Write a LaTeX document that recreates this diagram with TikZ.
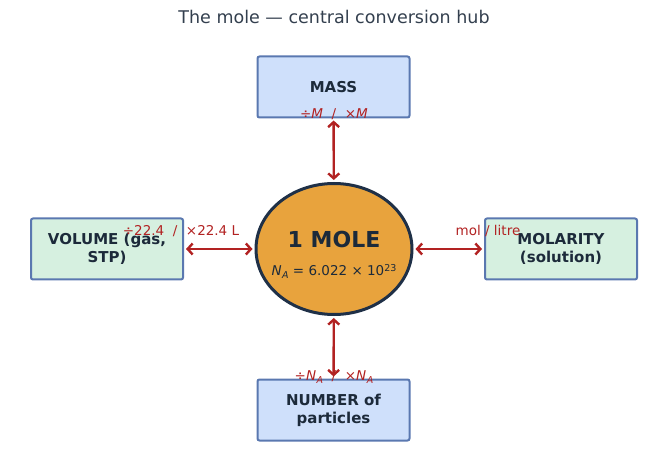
\documentclass[tikz,border=0pt]{standalone}
\usepackage{fontspec}
\setmainfont{DejaVu Sans}
\usetikzlibrary{arrows.meta,shapes.geometric}
\definecolor{txt}{HTML}{1C2A3A}
\definecolor{boxedge}{HTML}{5A78B0}
\definecolor{bluefill}{HTML}{CFE0FB}
\definecolor{greenfill}{HTML}{D6F0E0}
\definecolor{orangefill}{HTML}{E8A33D}
\definecolor{navy}{HTML}{1F3047}
\definecolor{arr}{HTML}{B22222}
\newcommand{\myNA}{\textit{N}\kern0.5pt\raisebox{-0.35ex}{\fontsize{9.5}{11}\selectfont\textit{A}}}
\tikzset{
  hubbox/.style={draw=boxedge, line width=2pt, rounded corners=2pt, minimum width=152pt, minimum height=61pt, inner sep=0pt, align=center, text=txt, font=\fontsize{15}{18}\selectfont\bfseries},
  convarrow/.style={draw=arr, line width=2.4pt, {Straight Barb[length=5pt,width=11pt]}-{Straight Barb[length=5pt,width=11pt]}, shorten <=2pt, shorten >=2pt},
  convlabel/.style={text=arr, font=\fontsize{13.5}{16}\selectfont, inner sep=0pt}
}
\begin{document}
\begin{tikzpicture}[x=1pt,y=-1pt]
\useasboundingbox (0,0) rectangle (667,473);
\node[text=txt!90, font=\fontsize{17.5}{21}\selectfont] (title) at (334,17) {The mole — central conversion hub};
\node[hubbox, fill=bluefill] (mass) at (333.5,87) {MASS};
\node[hubbox, fill=greenfill] (vol) at (107,249) {VOLUME (gas,\\STP)};
\node[hubbox, fill=greenfill] (mol) at (561,249) {MOLARITY\\(solution)};
\node[hubbox, fill=bluefill] (num) at (333.5,410) {NUMBER of\\particles};
\node[ellipse, draw=navy, line width=3pt, fill=orangefill, minimum width=156pt, minimum height=131pt, inner sep=0pt] (mole) at (334,249) {};
\node[text=txt, font=\fontsize{22}{26}\selectfont\bfseries] (moletitle) at (334,239) {1 MOLE};
\node[text=txt, font=\fontsize{13.5}{16}\selectfont] (molenum) at (334,271) {\myNA\ = 6.022 × 10\raisebox{0.6ex}{\fontsize{9.5}{11}\selectfont 23}};
\draw[convarrow] (mass) -- (mole);
\draw[convarrow] (mole) -- (num);
\draw[convarrow] (vol) -- (mole);
\draw[convarrow] (mole) -- (mol);
\node[convlabel] (lmass) at (334,114) {÷\textit{M}\ \ /\ \ ×\textit{M}};
\node[convlabel] (lvol) at (181,231) {÷22.4\ \ /\ \ ×22.4 L};
\node[convlabel] (lmol) at (488,231) {mol / litre};
\node[convlabel] (lnum) at (334,377) {÷\myNA\ \ /\ \ ×\myNA};
\end{tikzpicture}
\end{document}
